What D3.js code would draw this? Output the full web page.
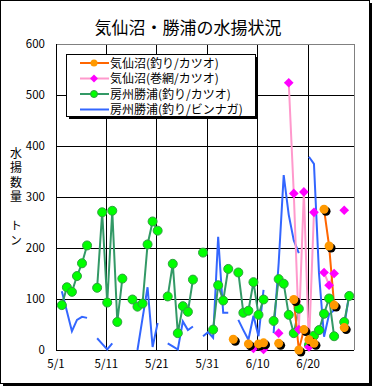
<!DOCTYPE html>
<html>
<head>
<meta charset="utf-8">
<script src="https://cdn.jsdelivr.net/npm/d3@7"></script>
<style>
body { margin: 0; background: #fff; }
svg { display: block; }
text { font-family: "Noto Sans CJK JP", sans-serif; }
</style>
</head>
<body>
<svg width="376" height="389"></svg>
<script>
// 目盛りラベル (5/1 からの日数)
const tickDays = [0, 10, 20, 30, 40, 50];
const tickLabels = ["5/1", "5/11", "5/21", "5/31", "6/10", "6/20"];
const seriesNames = ["気仙沼(釣り/カツオ)", "気仙沼(巻網/カツオ)", "房州勝浦(釣り/カツオ)", "房州勝浦(釣り/ビンナガ)"];

// 日別の水揚数量 (トン) 5/1〜6/29、null は水揚なし
const kesenTsuri = [
    null, null, null, null, null, null, null, null, null, null,
    null, null, null, null, null, null, null, null, null, null,
    null, null, null, null, null, null, null, null, null, null,
    null, null, null, null, null, 21, null, null, 12, null,
    12, 14, null, null, 13, null, null, 99, 0, 40,
    20, 13, null, 276, 204, 88, null, 44, null, null
];
const kesenMaki = [
    null, null, null, null, null, null, null, null, null, null,
    null, null, null, null, null, null, null, null, null, null,
    null, null, null, null, null, null, null, null, null, null,
    null, null, null, null, null, null, null, null, null, 3,
    null, 1, null, null, 33, null, 524, 307, 40, 310,
    6, 270, null, 152, 127, 150, null, 274, null, null
];
const katsuTsuri = [
    null, 88, 123, 114, 145, 170, 205, null, 122, 270,
    93, 273, 55, 140, null, 99, 85, 91, 207, 252,
    234, null, 105, 169, 33, 86, 75, 138, null, 191,
    null, 40, 127, 97, 159, null, 152, 73, 77, 133,
    69, 99, null, 57, 139, 130, 69, 33, 81, null,
    10, 28, 39, 71, 101, 27, null, 55, 106, null
];
const katsuBinnaga = [
    null, 115, 76, 37, 59, 65, 63, null, 23, 12,
    1, 13, null, null, null, null, 0, 62, 123, 6,
    53, null, 13, 7, 1, 56, 39, 46, null, 27,
    35, 24, 222, 73, 73, null, 59, 39, 20, 67,
    27, 118, null, 33, 170, 343, 265, 215, 190, null,
    379, 365, 150, 26, 70, 78, null, 47, 110, null
];

const svg = d3.select("svg");

// 外枠 (影付き)
svg.append("rect").attr("x", 3).attr("y", 3).attr("width", 369).attr("height", 383).attr("fill", "#000");
svg.append("rect").attr("x", 0.5).attr("y", 0.5).attr("width", 369).attr("height", 383)
    .attr("fill", "#fff").attr("stroke", "#000");

const plotL = 56, plotR = 354, plotT = 44, plotB = 350;

const x = d3.scaleLinear().domain([0, 59]).range([56.8, 354.3]);
const y = d3.scaleLinear().domain([0, 600]).range([plotB, plotT]);

// タイトル
svg.append("text").attr("x", 188).attr("y", 34).attr("text-anchor", "middle")
    .attr("font-size", 17).text("気仙沼・勝浦の水揚状況");

// 目盛線
const grid = svg.append("g").attr("stroke", "#000").attr("stroke-width", 1).attr("shape-rendering", "crispEdges");
grid.selectAll("line.h").data(d3.range(100, 600, 100)).join("line").attr("class", "h")
    .attr("x1", plotL).attr("x2", plotR).attr("y1", d => y(d)).attr("y2", d => y(d));
grid.selectAll("line.v").data(tickDays.slice(1)).join("line").attr("class", "v")
    .attr("x1", d => x(d) - 0.8).attr("x2", d => x(d) - 0.8).attr("y1", plotT).attr("y2", plotB);

// プロットエリアの枠
svg.append("path").attr("d", `M${plotL},${plotT}H${plotR}V${plotB}`)
    .attr("fill", "none").attr("stroke", "#808080").attr("shape-rendering", "crispEdges");
svg.append("path").attr("d", `M${plotL},${plotT}V${plotB}H${plotR}`)
    .attr("fill", "none").attr("stroke", "#000").attr("shape-rendering", "crispEdges");

// 軸ラベル
svg.append("g").selectAll("text").data(d3.range(0, 700, 100)).join("text")
    .attr("x", 45).attr("y", d => y(d) + 4).attr("text-anchor", "end")
    .attr("font-size", 11.5).text(d => d);
svg.append("g").selectAll("text").data(tickDays).join("text")
    .attr("x", d => x(d) - 0.8).attr("y", 368).attr("text-anchor", "middle")
    .attr("font-size", 11.5).text((d, i) => tickLabels[i]);

// 縦書きの軸タイトル
svg.append("text").attr("x", 16).attr("y", 147)
    .style("writing-mode", "vertical-rl").style("letter-spacing", "2.5px")
    .attr("font-size", 12).text("水揚数量\u3000トン");

// 折れ線
const line = d3.line()
    .defined(d => d != null)
    .x((d, i) => x(i))
    .y(d => y(d));

const series = [
    { data: katsuBinnaga, color: "#3366FF" },
    { data: katsuTsuri, color: "#339966" },
    { data: kesenMaki, color: "#FF99CC" },
    { data: kesenTsuri, color: "#FF6600" }
];
series.forEach(s => {
    svg.append("path").attr("d", line(s.data))
        .attr("fill", "none").attr("stroke", s.color).attr("stroke-width", 2);
});

const pts = arr => arr.map((v, i) => ({ i, v })).filter(d => d.v != null);

// マーカー
svg.append("g").selectAll("circle").data(pts(katsuTsuri)).join("circle")
    .attr("cx", d => x(d.i)).attr("cy", d => y(d.v)).attr("r", 4.5)
    .attr("fill", "#00FF00").attr("stroke", "#2FA040").attr("stroke-width", 1);

const diamond = d3.symbol().type(d3.symbolDiamond2).size(60);
svg.append("g").selectAll("path").data(pts(kesenMaki)).join("path")
    .attr("d", diamond).attr("transform", d => `translate(${x(d.i)},${y(d.v)})`)
    .attr("fill", "#FF00FF");

svg.append("g").selectAll("circle").data(pts(kesenTsuri)).join("circle")
    .attr("cx", d => x(d.i) + 2).attr("cy", d => y(d.v) + 2).attr("r", 4.5).attr("fill", "#000");
svg.append("g").selectAll("circle").data(pts(kesenTsuri)).join("circle")
    .attr("cx", d => x(d.i)).attr("cy", d => y(d.v)).attr("r", 4.5).attr("fill", "#FF9900");

// 凡例
const lg = svg.append("g");
lg.append("rect").attr("x", 69).attr("y", 57).attr("width", 189).attr("height", 62).attr("fill", "#000");
lg.append("rect").attr("x", 66.5).attr("y", 54.5).attr("width", 189).attr("height", 62)
    .attr("fill", "#fff").attr("stroke", "#000");
const legendColors = ["#FF6600", "#FF99CC", "#339966", "#3366FF"];
seriesNames.forEach((name, i) => {
    const ly = 63 + i * 15.5;
    lg.append("line").attr("x1", 80).attr("x2", 109).attr("y1", ly).attr("y2", ly)
        .attr("stroke", legendColors[i]).attr("stroke-width", 2);
    if (i == 0) lg.append("circle").attr("cx", 94).attr("cy", ly).attr("r", 3.5).attr("fill", "#FF9900");
    if (i == 1) lg.append("path").attr("d", d3.symbol().type(d3.symbolDiamond2).size(40))
        .attr("transform", `translate(94,${ly})`).attr("fill", "#FF00FF");
    if (i == 2) lg.append("circle").attr("cx", 94).attr("cy", ly).attr("r", 3.5)
        .attr("fill", "#00FF00").attr("stroke", "#2FA040");
    lg.append("text").attr("x", 110).attr("y", ly + 4.5).attr("font-size", 12).text(name);
});
</script>
</body>
</html>
